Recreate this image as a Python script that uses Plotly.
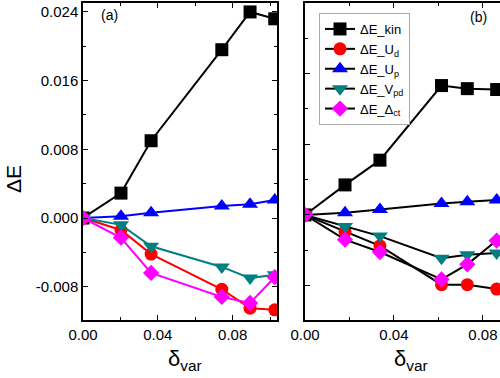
import plotly.graph_objects as go

# ---- data ----
left_x   = [0, 0.0203, 0.0364, 0.0742, 0.0893, 0.1025]
left_kin = [0, 0.0029, 0.0090, 0.0196, 0.0240, 0.0232]
left_Ud  = [0, -0.0014, -0.0042, -0.0083, -0.0105, -0.0107]
left_Up  = [0, 0.0002, 0.0006, 0.0014, 0.0016, 0.0021]
left_Vpd = [0, -0.0008, -0.0033, -0.0057, -0.0070, -0.0066]
left_Dct = [0, -0.0023, -0.0064, -0.0092, -0.0099, -0.0069]

right_x   = [0, 0.0180, 0.0337, 0.0614, 0.0730, 0.0862]
right_kin = [0, 0.0034, 0.0062, 0.01465, 0.0143, 0.0142]
right_Ud  = [0, -0.0019, -0.0035, -0.0079, -0.0079, -0.0084]
right_Up  = [0, 0.00026, 0.0006, 0.0013, 0.0015, 0.0017]
right_Vpd = [0, -0.0013, -0.0024, -0.0049, -0.0045, -0.0043]
right_Dct = [0, -0.0028, -0.0042, -0.0073, -0.0056, -0.0029]

y_tickvals = [-0.008, 0.0, 0.008, 0.016, 0.024]
y_ticktext = ["-0.008", "0.000", "0.008", "0.016", "0.024"]
x_tickvals = [0.0, 0.04, 0.08]
x_ticktext = ["0.00", "0.04", "0.08"]

names = ["ΔE_kin", "ΔE_U<sub>d</sub>", "ΔE_U<sub>p</sub>", "ΔE_V<sub>pd</sub>", "ΔE_Δ<sub>ct</sub>"]
colors = ["#000000", "#ff0000", "#0000ff", "#008080", "#ff00ff"]
symbols = ["square", "circle", "triangle-up", "triangle-down", "diamond"]
sizes = [13, 13, 14, 14, 12.5]

FONT = "Liberation Sans, Arial, sans-serif"

fig = go.Figure()
left_series = [left_kin, left_Ud, left_Up, left_Vpd, left_Dct]
right_series = [right_kin, right_Ud, right_Up, right_Vpd, right_Dct]

for i, ys in enumerate(left_series):
    fig.add_trace(go.Scatter(
        x=left_x, y=ys, mode="lines+markers", xaxis="x", yaxis="y",
        line=dict(color=colors[i], width=2),
        marker=dict(symbol=symbols[i], size=sizes[i], color=colors[i]),
        showlegend=False, name=names[i]))

for i, ys in enumerate(right_series):
    fig.add_trace(go.Scatter(
        x=right_x, y=ys, mode="lines+markers", xaxis="x2", yaxis="y2",
        line=dict(color="#000000", width=2),
        marker=dict(symbol=symbols[i], size=sizes[i], color=colors[i]),
        showlegend=True, name=names[i]))

W, H = 500, 378
L, R, T, B = 83, 0, 3, 58
pw = W - L - R
ph = H - T - B

def px_x(p):
    return (p - L) / pw

def px_y(p):
    return (H - B - p) / ph

axis_common = dict(
    showline=True, linecolor="black", linewidth=1.5,
    ticks="inside", ticklen=5, tickwidth=1.2, tickcolor="black",
    showgrid=False, zeroline=False,
    tickfont=dict(family=FONT, size=15, color="black"),
)

fig.update_layout(
    width=W, height=H,
    margin=dict(l=L, r=R, t=T, b=B),
    paper_bgcolor="white", plot_bgcolor="white",
    font=dict(family=FONT, color="black"),
    xaxis=dict(domain=[0, px_x(277)], range=[0, 0.1037], anchor="y",
               tickmode="array", tickvals=x_tickvals, ticktext=x_ticktext, mirror="ticks",
               minor=dict(dtick=0.02, tick0=0, ticks="inside", ticklen=3, tickcolor="black"),
               **axis_common),
    yaxis=dict(domain=[0, 1], range=[-0.01188, 0.02504], anchor="x",
               tickmode="array", tickvals=y_tickvals, ticktext=y_ticktext, mirror="ticks",
               minor=dict(dtick=0.004, tick0=0, ticks="inside", ticklen=3, tickcolor="black"),
               **axis_common),
    xaxis2=dict(domain=[px_x(305), 1], range=[0, 0.0877], anchor="y2",
                tickmode="array", tickvals=x_tickvals, ticktext=x_ticktext, mirror="ticks",
                minor=dict(dtick=0.02, tick0=0, ticks="inside", ticklen=3, tickcolor="black"),
                **axis_common),
    yaxis2=dict(domain=[0, 1], range=[-0.0119, 0.0240], anchor="x2",
                tickmode="array", tickvals=y_tickvals, showticklabels=False, mirror=False,
                minor=dict(dtick=0.004, tick0=0, ticks="inside", ticklen=3, tickcolor="black"),
                **axis_common),
    legend=dict(x=px_x(319), y=px_y(13), xanchor="left", yanchor="top",
                bgcolor="white", bordercolor="#aaaaaa", borderwidth=1,
                font=dict(family=FONT, size=13, color="black"),
                itemwidth=30, tracegroupgap=0),
)

ann = [
    dict(text="(a)", x=px_x(109), y=px_y(15), size=14),
    dict(text="(b)", x=px_x(478), y=px_y(17), size=14),
]
for a in ann:
    fig.add_annotation(text=a["text"], x=a["x"], y=a["y"], xref="paper", yref="paper",
                       showarrow=False, xanchor="center", yanchor="middle",
                       font=dict(family=FONT, size=a["size"], color="black"))

fig.add_annotation(text="ΔE", x=px_x(13), y=px_y(179), xref="paper", yref="paper",
                   showarrow=False, textangle=-90, xanchor="center", yanchor="middle",
                   font=dict(family=FONT, size=21, color="black"))
for cx in (185, 411):
    fig.add_annotation(text="δ<sub>var</sub>", x=px_x(cx), y=px_y(360), xref="paper", yref="paper",
                       showarrow=False, xanchor="center", yanchor="middle",
                       font=dict(family=FONT, size=22, color="black"))

fig.write_html("out.html", config={"displayModeBar": False},
               post_script="document.body.style.margin='0';document.body.style.overflow='hidden';")
